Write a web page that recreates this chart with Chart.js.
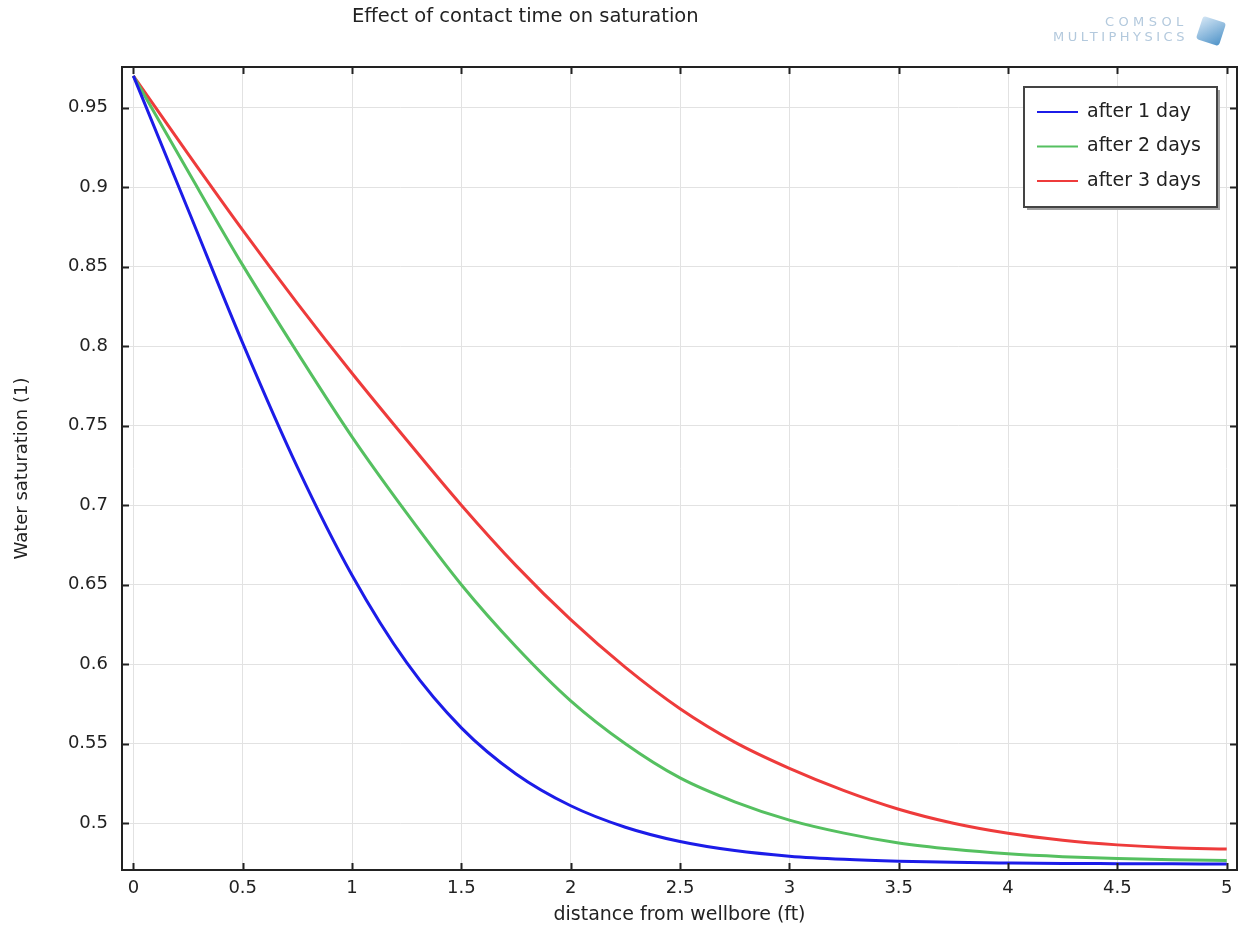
<!DOCTYPE html>
<html>
<head>
<meta charset="utf-8">
<script src="https://cdn.jsdelivr.net/npm/chart.js@4.4.0/dist/chart.umd.min.js"></script>
<style>
  body { margin: 0; background: #fff; }
  #wrap { position: relative; width: 1243px; height: 926px; }
  #title { position: absolute; left: 352px; top: 6px; font: 19.5px 'DejaVu Sans'; line-height: 19px; color: #222; white-space: nowrap; }
  .logo { position: absolute; font-family: 'DejaVu Sans'; color: #b3c9dd; white-space: nowrap; }
  #logo1 { left: 1105px; top: 14px; font-size: 13px; letter-spacing: 4.4px; }
  #logo2 { left: 1053px; top: 29px; font-size: 13px; letter-spacing: 3.5px; }
  #cube { position: absolute; left: 1199px; top: 19px; width: 24px; height: 24px; transform: rotate(18deg);
          background: linear-gradient(135deg, #d4e6f5, #4f93c8); border-radius: 3px; }
</style>
</head>
<body>
<div id="wrap">
  <canvas id="myChart" width="1243" height="926"></canvas>
  <div id="title">Effect of contact time on saturation</div>
  <div class="logo" id="logo1">COMSOL</div>
  <div class="logo" id="logo2">MULTIPHYSICS</div>
  <div id="cube"></div>
</div>
<script>
var distance = [0, 0.25, 0.5, 0.75, 1, 1.25, 1.5, 1.75, 2, 2.25, 2.5, 2.75, 3, 3.25, 3.5, 3.75, 4, 4.25, 4.5, 4.75, 5];
var day1 = [0.970, 0.886, 0.802, 0.724, 0.656, 0.601, 0.560, 0.531, 0.511, 0.4975, 0.4885, 0.4828, 0.4793, 0.4773, 0.4761, 0.4754, 0.4750, 0.4747, 0.4746, 0.4745, 0.4744];
var day2 = [0.970, 0.910, 0.851, 0.796, 0.743, 0.695, 0.650, 0.611, 0.577, 0.550, 0.5285, 0.5135, 0.502, 0.4938, 0.4876, 0.4836, 0.4808, 0.479, 0.4778, 0.4770, 0.4766];
var day3 = [0.970, 0.921, 0.873, 0.827, 0.783, 0.741, 0.700, 0.662, 0.628, 0.598, 0.572, 0.551, 0.5345, 0.5205, 0.5088, 0.500, 0.4937, 0.4893, 0.4864, 0.4846, 0.4838];
var seriesLabels = ['after 1 day', 'after 2 days', 'after 3 days'];
var seriesColors = ['#1c1ce8', '#55c060', '#ee3b3b'];

var xTickValues = [0, 0.5, 1, 1.5, 2, 2.5, 3, 3.5, 4, 4.5, 5];
var xTickLabels = ['0', '0.5', '1', '1.5', '2', '2.5', '3', '3.5', '4', '4.5', '5'];
var yTickValues = [0.5, 0.55, 0.6, 0.65, 0.7, 0.75, 0.8, 0.85, 0.9, 0.95];
var yTickLabels = ['0.5', '0.55', '0.6', '0.65', '0.7', '0.75', '0.8', '0.85', '0.9', '0.95'];

var FONT = 'DejaVu Sans';
var TEXT = '#222';

function toPoints(ys) {
  return distance.map(function (x, i) { return { x: x, y: ys[i] }; });
}

// frame around the plot with short ticks pointing inward
var frame = {
  id: 'frame',
  afterDatasetsDraw: function (chart) {
    var ctx = chart.ctx;
    var a = chart.chartArea;
    var xs = chart.scales.x, ys = chart.scales.y;
    var len = 7;
    ctx.save();
    ctx.strokeStyle = '#222';
    ctx.lineWidth = 2;
    ctx.strokeRect(a.left, a.top, a.right - a.left, a.bottom - a.top);
    ctx.beginPath();
    xTickValues.forEach(function (v) {
      var px = Math.round(xs.getPixelForValue(v)) + 0.5;
      ctx.moveTo(px, a.bottom); ctx.lineTo(px, a.bottom - len);
      ctx.moveTo(px, a.top); ctx.lineTo(px, a.top + len);
    });
    yTickValues.forEach(function (v) {
      var py = Math.round(ys.getPixelForValue(v)) + 0.5;
      ctx.moveTo(a.left, py); ctx.lineTo(a.left + len, py);
      ctx.moveTo(a.right, py); ctx.lineTo(a.right - len, py);
    });
    ctx.stroke();
    ctx.restore();
  }
};

var legendBox = {
  id: 'legendBox',
  afterDraw: function (chart) {
    var ctx = chart.ctx;
    var x = 1024, y = 87, w = 193, h = 120;
    ctx.save();
    ctx.fillStyle = '#a0a0a0';
    ctx.fillRect(x + 3, y + 3, w, h);
    ctx.fillStyle = '#fff';
    ctx.fillRect(x, y, w, h);
    ctx.strokeStyle = '#444';
    ctx.lineWidth = 2;
    ctx.strokeRect(x, y, w, h);
    ctx.font = "19px '" + FONT + "'";
    ctx.textBaseline = 'middle';
    chart.data.datasets.forEach(function (ds, i) {
      var cy = y + 25 + i * 34.5;
      ctx.strokeStyle = ds.borderColor;
      ctx.lineWidth = 2;
      ctx.beginPath();
      ctx.moveTo(x + 13, cy);
      ctx.lineTo(x + 54, cy);
      ctx.stroke();
      ctx.fillStyle = TEXT;
      ctx.fillText(ds.label, x + 63, cy);
    });
    ctx.restore();
  }
};

var whiteBg = {
  id: 'whiteBg',
  beforeDraw: function (chart) {
    var ctx = chart.ctx;
    ctx.save();
    ctx.fillStyle = '#fff';
    ctx.fillRect(0, 0, chart.width, chart.height);
    ctx.restore();
  }
};

new Chart('myChart', {
  type: 'line',
  data: {
    datasets: [day1, day2, day3].map(function (ys, i) {
      return {
        label: seriesLabels[i],
        data: toPoints(ys),
        borderColor: seriesColors[i],
        borderWidth: 3,
        pointRadius: 0,
        cubicInterpolationMode: 'monotone',
        fill: false,
      };
    }),
  },
  options: {
    responsive: false,
    animation: false,
    layout: { padding: { top: 67, right: 6, left: 0, bottom: 0 } },
    plugins: {
      legend: { display: false },
      title: { display: false },
      tooltip: { enabled: false },
    },
    scales: {
      x: {
        type: 'linear',
        min: -0.052,
        max: 5.047,
        afterBuildTicks: function (s) { s.ticks = xTickValues.map(function (v) { return { value: v }; }); },
        afterFit: function (s) { s.height = 56; },
        ticks: {
          autoSkip: false,
          maxRotation: 0,
          padding: 8,
          color: TEXT,
          font: { family: FONT, size: 18 },
          callback: function (v, i) { return xTickLabels[i]; },
        },
        grid: { color: '#e2e2e2', lineWidth: 1, drawTicks: false },
        border: { display: false },
        title: {
          display: true,
          text: 'distance from wellbore (ft)',
          color: TEXT,
          font: { family: FONT, size: 19 },
          padding: { top: 0, bottom: 0 },
        },
      },
      y: {
        type: 'linear',
        min: 0.4706,
        max: 0.9756,
        afterBuildTicks: function (s) { s.ticks = yTickValues.map(function (v) { return { value: v }; }); },
        afterFit: function (s) { s.width = 122; },
        ticks: {
          autoSkip: false,
          padding: 14,
          color: TEXT,
          font: { family: FONT, size: 18 },
          callback: function (v, i) { return yTickLabels[i]; },
        },
        grid: { color: '#e2e2e2', lineWidth: 1, drawTicks: false },
        border: { display: false },
        title: {
          display: true,
          text: 'Water saturation (1)',
          color: TEXT,
          font: { family: FONT, size: 18 },
          padding: { top: 12, bottom: 0 },
        },
      },
    },
  },
  plugins: [whiteBg, frame, legendBox],
});
</script>
</body>
</html>
